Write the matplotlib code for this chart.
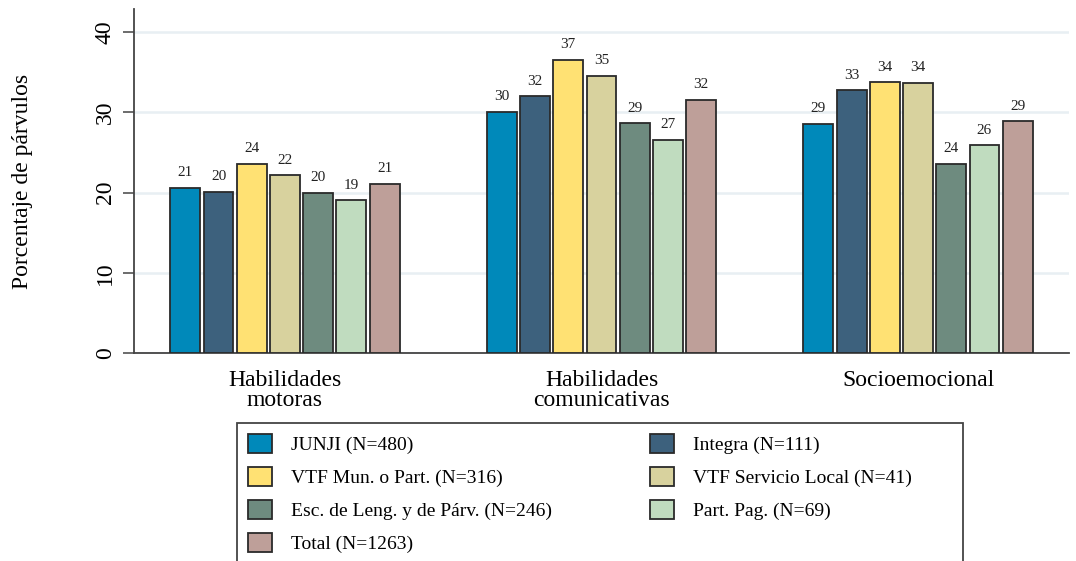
import matplotlib
matplotlib.use("Agg")
import matplotlib.pyplot as plt
from matplotlib.patches import Rectangle
import numpy as np

categories = ["Habilidades\nmotoras", "Habilidades\ncomunicativas", "Socioemocional"]
series_names = ["JUNJI (N=480)", "Integra (N=111)", "VTF Mun. o Part. (N=316)",
                "VTF Servicio Local (N=41)", "Esc. de Leng. y de Párv. (N=246)",
                "Part. Pag. (N=69)", "Total (N=1263)"]
junji = [20.6, 30.1, 28.6]
integra = [20.1, 32.0, 32.8]
vtf_mun = [23.6, 36.6, 33.8]
vtf_sl = [22.2, 34.6, 33.7]
esc_leng = [20.0, 28.7, 23.6]
part_pag = [19.1, 26.6, 25.9]
total = [21.1, 31.6, 28.9]
series_values = [junji, integra, vtf_mun, vtf_sl, esc_leng, part_pag, total]
colors = ["#0089BA", "#3D617D", "#FFE173", "#D8D29E", "#6E8B7F", "#C0DCBF", "#BE9F99"]
yticks = [0, 10, 20, 30, 40]

plt.rcParams['font.family'] = ['Liberation Serif', 'DejaVu Serif']

W, H = 1076, 561
fig = plt.figure(figsize=(W/100, H/100), dpi=100)
ax = fig.add_axes([134/W, 1-353/H, (1069-134)/W, (353-9)/H])

n = len(series_values)
width = 0.105
x = np.arange(len(categories))
for i, (vals, col, name) in enumerate(zip(series_values, colors, series_names)):
    pos = x + (i - (n-1)/2) * width
    ax.bar(pos, vals, width=width*0.9, color=col, edgecolor="#2a2a2a",
           linewidth=1.3, label=name, zorder=3)
    for p, v in zip(pos, vals):
        ax.annotate(f"{int(v + 0.5)}", (p, v), xytext=(0, 6), textcoords="offset points",
                    ha="center", va="bottom", fontsize=11, color="#222222")

ax.set_xlim(-0.477, 2.477)
ax.set_ylim(0, 42.9)
ax.set_yticks(yticks)
ax.set_yticklabels([str(t) for t in yticks], rotation=90, va="center", fontsize=17)
ax.set_xticks(x)
ax.set_xticklabels(categories, fontsize=17, linespacing=0.95)
ax.tick_params(axis="x", length=0, pad=12)
ax.tick_params(axis="y", length=8, width=1.1, color="#444444", pad=5)
ax.grid(axis="y", color="#E8EFF3", linewidth=1.8, zorder=0)
ax.set_axisbelow(True)
for s in ["top", "right"]:
    ax.spines[s].set_visible(False)
for s in ["left", "bottom"]:
    ax.spines[s].set_color("#444444")
    ax.spines[s].set_linewidth(1.3)

fig.text(23/W, 1-181.5/H, "Porcentaje de párvulos", rotation=90,
         ha="center", va="center", fontsize=17)

# legend frame (extends below the figure edge, as in the reference)
frame = Rectangle((237/W, -0.05), (963-237)/W, (1-423/H) + 0.05,
                  transform=fig.transFigure, facecolor="white",
                  edgecolor="#444444", linewidth=1.3, zorder=1)
fig.patches.append(frame)

handles, labels = ax.get_legend_handles_labels()
order = [0, 2, 4, 6, 1, 3, 5]
leg = fig.legend([handles[i] for i in order], [labels[i] for i in order],
                 ncol=2, loc="upper left", bbox_to_anchor=(237/W, 1-423/H),
                 fontsize=14, frameon=False,
                 handlelength=1.25, handleheight=1.15, handletextpad=1.0,
                 labelspacing=0.66, borderpad=0.55, columnspacing=5.0,
                 borderaxespad=0)
leg.set_zorder(2)

fig.savefig("out.png", dpi=100)
